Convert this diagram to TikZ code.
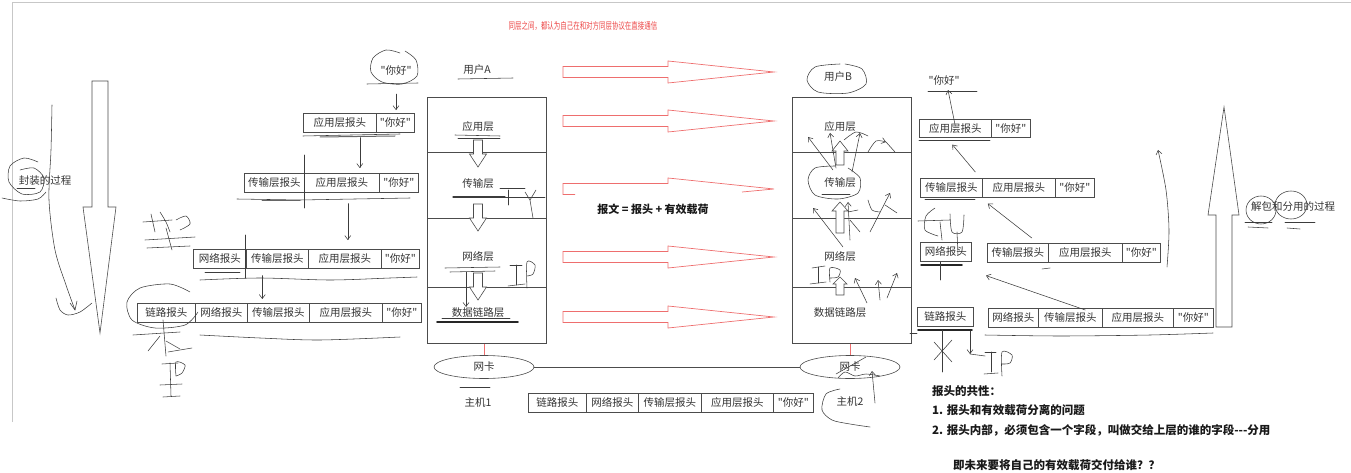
\documentclass[tikz,border=0pt]{standalone}
\usepackage{graphicx}
\usepackage{fontspec}
\setmainfont{Noto Sans CJK SC}[Ligatures=TeXOff]
\usetikzlibrary{arrows.meta,shapes.geometric}
\definecolor{redarr}{RGB}{238,110,110}
\definecolor{redtxt}{RGB}{236,70,70}
\definecolor{ink}{RGB}{60,60,60}
\begin{document}
\begin{tikzpicture}[x=1pt,y=-1pt,
  pbox/.style={draw=black!70, line width=0.6pt, minimum height=19pt, inner sep=0pt, anchor=north west, font=\fontsize{10.5}{12}\selectfont, text=black!80},
  lbl/.style={font=\fontsize{10.5}{12}\selectfont, text=black!80, inner sep=1pt},
  bigtxt/.style={font=\fontsize{11.5}{14}\selectfont\bfseries, text=black!90, inner sep=0pt, anchor=west},
  layer/.style={draw=black!70, line width=0.6pt, anchor=north west, minimum width=119pt, inner sep=0pt},
  hollow/.style={draw=black!70, line width=0.6pt, fill=white},
  redhollow/.style={draw=redarr, line width=0.7pt},
  hand/.style={draw=ink, line width=0.55pt, line cap=round, line join=round},
  heavy/.style={draw=black!85, line width=1.8pt, line cap=round},
  harrow/.style={hand, -{Straight Barb[length=4pt,width=6pt]}},
  downarr/.pic={\draw[hollow] (-4.5,0) -- (4.5,0) -- (4.5,14) -- (8.5,14) -- (0,27) -- (-8.5,14) -- (-4.5,14) -- cycle;},
  redarrow/.pic={\draw[redhollow] (0,-5.5) -- (105,-5.5) -- (105,-11) -- (211,0) -- (105,11) -- (105,5.5) -- (0,5.5) -- cycle;}
]
\useasboundingbox (0,0) rectangle (1351,473);
% frame
\draw[black!22, line width=1pt] (12,422) -- (12,3) -- (1351,3);

% title
\node[text=redtxt, font=\fontsize{9.5}{11}\selectfont, inner sep=0pt] (title) at (583,26) {\scalebox{0.68}[1]{同层之间，都认为自己在和对方同层协议在直接通信}};

% ---------- left big arrow ----------
\draw[hollow] (92,81) -- (108,81) -- (108,207) -- (116,207) -- (100,333) -- (83,207) -- (92,207) -- cycle;
\node[lbl] (encap) at (45,181) {封装的过程};
\draw[hand] plot[smooth] coordinates {(52,105) (51,150) (49,200) (55,250) (66,285) (75,310)};
\draw[hand] (70,303) -- (75,310) -- (77,301);
\draw[hand] plot[smooth] coordinates {(56,298) (60,310) (68,315) (80,312) (92,303)};
\draw[hand] plot[smooth] coordinates {(38,162) (24,158) (10,166) (9,182) (22,194) (40,192) (44,178) (34,168) (20,170)};
\draw[hand] plot[smooth] coordinates {(2,198) (20,201) (38,199) (46,192)};
\draw[hand] (17,188) -- (35,188);

% ---------- left packets ----------
\node[lbl] (lt) at (396,71) {"你好"};
\draw[hand] plot[smooth] coordinates {(400,53) (386,50) (373,58) (371,72) (382,82) (402,84) (417,76) (416,60) (405,51)};
\draw[hand] (367,84) -- (418,83);
\draw[harrow] ([yshift=-17pt]lt.south) -- ([yshift=-33pt]lt.south);

\node[pbox, minimum width=73pt] (la1) at (303,113) {应用层报头};
\node[pbox, minimum width=38pt] (la2) at (376,113) {"你好"};
\node[pbox, minimum width=60pt] (lb1) at (244,173) {传输层报头};
\node[pbox, minimum width=75pt] (lb2) at (304,173) {应用层报头};
\node[pbox, minimum width=39pt] (lb3) at (379,173) {"你好"};
\node[pbox, minimum width=53pt] (lc1) at (193,249) {网络报头};
\node[pbox, minimum width=62pt] (lc2) at (246,249) {传输层报头};
\node[pbox, minimum width=73pt] (lc3) at (308,249) {应用层报头};
\node[pbox, minimum width=38pt] (lc4) at (381,249) {"你好"};
\node[pbox, minimum width=58pt] (ld1) at (137,303) {链路报头};
\node[pbox, minimum width=52pt] (ld2) at (195,303) {网络报头};
\node[pbox, minimum width=62pt] (ld3) at (247,303) {传输层报头};
\node[pbox, minimum width=73pt] (ld4) at (309,303) {应用层报头};
\node[pbox, minimum width=39pt] (ld5) at (382,303) {"你好"};

\draw[harrow] ([xshift=20pt,yshift=-5pt]la1.south) -- ([xshift=18pt,yshift=5pt]lb2.north);
\draw[harrow] ([xshift=6pt,yshift=-11pt]lb2.south) -- ([xshift=3pt,yshift=9pt]lc3.north);
\draw[harrow] ([xshift=-15pt,yshift=-7pt]lc2.south) -- ([xshift=-16pt,yshift=4pt]ld3.north);

% underlines and scribbles, left
\draw[hand] (303,136) -- (400,134);
\draw[hand, line width=1pt, black!60] (320,137) -- (395,136);
\draw[hand] (237,199) -- (300,200) -- (410,198);
\draw[hand, line width=1pt, black!60] (262,201) -- (300,201);
\draw[hand] (304,155) -- (304,208);
\draw[hand] (245,235) -- (245,278);
\draw[hand] (205,272) -- (240,272);
\draw[hand] plot[smooth] coordinates {(200,280) (260,278) (330,280) (390,278) (417,277)};
\draw[hand] plot[smooth] coordinates {(200,335) (260,338) (320,340) (400,337)};
\draw[hand] plot[smooth] coordinates {(190,292) (170,284) (140,288) (127,302) (132,320) (155,328) (185,325) (198,312)};
% scribble "装"
\draw[hand] (143,222) -- (172,220);
\draw[hand] (151,214) -- (155,232);
\draw[hand] plot[smooth] coordinates {(160,212) (166,222) (170,232)};
\draw[hand] plot[smooth] coordinates {(176,220) (186,216) (190,224) (180,230)};
\draw[hand] (145,240) -- (195,237);
\draw[hand] (166,228) -- (172,250);
\draw[hand] (147,248) -- (190,246);
% scribble under link header
\draw[hand] (133,335) -- (180,332);
\draw[hand] (163,320) -- (166,356);
\draw[hand] (160,336) -- (148,351);
\draw[hand] (166,341) -- (180,349);
\draw[hand] (168,352) -- (192,348);
\draw[hand] (162,364) -- (178,363);
\draw[hand] (170,363) -- (171,396);
\draw[hand] (160,385) -- (182,384);
\draw[hand] (163,397) -- (180,396);
\draw[hand] plot[smooth] coordinates {(176,376) (176,362) (185,365) (182,373) (176,376)};

% ---------- host A ----------
\node[lbl] (userA) at (477,70) {用户A};
\draw[hand] (458,79) -- (513,78);
\node[layer, minimum height=55pt] (a1) at (427,97) {};
\node[layer, minimum height=66pt] (a2) at (427,152) {};
\node[layer, minimum height=69pt] (a3) at (427,218) {};
\node[layer, minimum height=56pt] (a4) at (427,287) {};
\node[lbl] (a1t) at (478,127) {应用层};
\node[lbl] (a2t) at (478,184) {传输层};
\node[lbl] (a3t) at (478,256) {网络层};
\node[lbl] (a4t) at (478,313) {数据链路层};
\pic at (478,140) {downarr};
\pic at (478,204) {downarr};
\pic at (478,273) {downarr};
\draw[hand] (455,135) -- (500,136);
\draw[hand] (458,138) -- (500,138);
\draw[hand, line width=1.3pt] (453,197) -- (505,197);
\draw[hand] (500,188) -- (525,188);
\draw[hand] (505,197) -- (545,197);
\draw[hand] (508,190) -- (508,205);
\draw[hand] (525,192) -- (530,200) -- (536,190);
\draw[hand] (530,200) -- (533,218);
\draw[hand] (445,268) -- (500,267);
\draw[hand] (450,272) -- (495,271);
\draw[hand] (510,265) -- (522,265);
\draw[hand] (516,265) -- (516,285);
\draw[hand] (508,286) -- (525,284);
\draw[hand] plot[smooth] coordinates {(527,288) (527,262) (535,265) (533,274) (527,276)};
\draw[harrow] (a3t.south -| 466,0) ++(0,10) -- (a4t.north -| 466,0);
\draw[heavy] (437,322) -- (518,322);
\draw[hand] (442,318) -- (510,318);

% red arrows
\pic at (563,72) {redarrow};
\pic at (563,121) {redarrow};
\draw[redhollow] (575,194.5) -- (563,194.5) -- (563,183.5) -- (668,183.5) -- (668,178) -- (774,189) -- (742,192);
\pic at (563,257) {redarrow};
\pic at (563,317) {redarrow};
\node[font=\fontsize{11}{13}\selectfont\bfseries, text=black!90] (msg) at (653,209) {报文 = 报头 + 有效载荷};

% NICs
\node[draw=black!70, line width=0.6pt, ellipse, minimum width=100pt, minimum height=23pt, inner sep=0pt, lbl] (nicA) at (484,367) {网卡};
\node[draw=black!70, line width=0.6pt, ellipse, minimum width=100pt, minimum height=23pt, inner sep=0pt, lbl] (nicB) at (850,367) {网卡};
\draw[redarr, line width=0.6pt] (nicA.north) -- (nicA.north |- a4.south);
\draw[redarr, line width=0.6pt] (nicB.north) -- (nicB.north |- a4.south);
\draw[black!70, line width=0.6pt] (nicA) -- (nicB);
\node[lbl] (hostA) at (478,403) {主机1};
\draw[hand] (460,387) -- (490,387);

\node[pbox, minimum width=58pt] (bm1) at (528,393) {链路报头};
\node[pbox, minimum width=52pt] (bm2) at (586,393) {网络报头};
\node[pbox, minimum width=63pt] (bm3) at (638,393) {传输层报头};
\node[pbox, minimum width=72pt] (bm4) at (701,393) {应用层报头};
\node[pbox, minimum width=40pt] (bm5) at (773,393) {"你好"};

\node[lbl] (hostB) at (850,402) {主机2};
\draw[hand] plot[smooth] coordinates {(840,389) (826,394) (822,410) (832,420) (850,424) (870,427)};
\draw[harrow] (875,403) -- (872,371);
\draw[hand] (836,374) -- (866,357);
\draw[hand] plot[smooth] coordinates {(838,378) (845,372) (855,376) (866,374) (880,376)};

% ---------- host B ----------
\node[lbl] (userB) at (838,77) {用户B};
\draw[hand] plot[smooth] coordinates {(840,64) (815,67) (807,80) (818,92) (848,93) (866,84) (862,69) (845,64)};
\node[layer, minimum height=55pt] (b1) at (792,97) {};
\node[layer, minimum height=66pt] (b2) at (792,152) {};
\node[layer, minimum height=69pt] (b3) at (792,218) {};
\node[layer, minimum height=56pt] (b4) at (792,287) {};
\node[lbl] (b1t) at (840,127) {应用层};
\node[lbl] (b2t) at (840,183) {传输层};
\node[lbl] (b3t) at (840,256) {网络层};
\node[lbl] (b4t) at (840,313) {数据链路层};
\draw[hollow] (840,141) -- ++(8,10) -- ++(-4,0) -- ++(0,14) -- ++(-8,0) -- ++(0,-14) -- ++(-4,0) -- cycle;
\draw[hollow] (840,202) -- ++(8,9) -- ++(-4,0) -- ++(0,22) -- ++(-8,0) -- ++(0,-22) -- ++(-4,0) -- cycle;
\draw[hollow] (840,277) -- ++(7,7) -- ++(-3,0) -- ++(0,11) -- ++(-8,0) -- ++(0,-11) -- ++(-3,0) -- cycle;
\draw[hand] plot[smooth] coordinates {(835,166) (815,168) (808,180) (815,195) (838,199) (858,193) (860,178) (848,168)};
\draw[hand] (822,194) -- (850,194);
\draw[harrow] (833,170) -- (808,137);
\draw[harrow] (836,168) -- (830,133);
\draw[harrow] (852,172) -- (860,133);
\draw[hand] plot[smooth] coordinates {(844,140) (856,132) (868,136)};
\draw[harrow] plot[smooth] coordinates {(868,152) (876,141) (886,142)};
\draw[hand] (886,142) -- (895,152);
\draw[harrow] (843,247) -- (813,208);
\draw[harrow] (850,240) -- (848,202);
\draw[hand] (848,212) -- (858,210);
\draw[hand] (850,220) -- (860,232);
\draw[harrow] (870,232) -- (890,193);
\draw[hand] plot[smooth] coordinates {(868,200) (872,210) (880,212)};
\draw[hand] (885,205) -- (897,213);
\draw[hand] (812,268) -- (825,266);
\draw[hand] (818,267) -- (818,283);
\draw[hand] (810,284) -- (826,282);
\draw[hand] plot[smooth] coordinates {(830,282) (830,268) (840,270) (838,277) (830,278)};
\draw[harrow] (867,303) -- (855,278);
\draw[harrow] (880,300) -- (878,280);
\draw[harrow] (887,298) -- (897,273);

% ---------- right packets ----------
\node[lbl] (rt) at (944,81) {"你好"};
\draw[hand] (928,91) -- (977,91);
\node[pbox, minimum width=72pt, minimum height=18pt] (ra1) at (919,119) {应用层报头};
\node[pbox, minimum width=39pt, minimum height=18pt] (ra2) at (991,119) {"你好"};
\node[pbox, minimum width=62pt] (rb1) at (920,178) {传输层报头};
\node[pbox, minimum width=73pt] (rb2) at (982,178) {应用层报头};
\node[pbox, minimum width=39pt] (rb3) at (1055,178) {"你好"};
\node[pbox, minimum width=51pt] (rc1) at (920,242) {网络报头};
\node[pbox, minimum width=61pt] (rc2) at (987,243) {传输层报头};
\node[pbox, minimum width=74pt] (rc3) at (1048,243) {应用层报头};
\node[pbox, minimum width=38pt] (rc4) at (1122,243) {"你好"};
\node[pbox, minimum width=56pt] (rd1) at (917,307) {链路报头};
\node[pbox, minimum width=50pt] (rd2) at (988,308) {网络报头};
\node[pbox, minimum width=64pt] (rd3) at (1038,308) {传输层报头};
\node[pbox, minimum width=71pt] (rd4) at (1102,308) {应用层报头};
\node[pbox, minimum width=40pt] (rd5) at (1173,308) {"你好"};

\draw[harrow] ([xshift=0pt,yshift=-7pt]ra1.north) -- ([xshift=4pt,yshift=-3pt]rt.south);
\draw[harrow] ([xshift=24pt,yshift=6pt]rb1.north) -- ([xshift=-3pt,yshift=-7pt]ra1.south);
\draw[harrow] ([xshift=14pt,yshift=5pt]rc2.north) -- ([xshift=-31pt,yshift=-6pt]rb2.south);
\draw[harrow] ([xshift=15pt,yshift=-2pt]rd3.north) -- ([xshift=-1pt,yshift=-13pt]rc2.south west);
\draw[hand] (1042,269) -- (1050,268);
\draw[harrow] plot[smooth] coordinates {(1167,267) (1169,230) (1166,190) (1158,150)};
\draw[hand] (919,140) -- (990,140);
\draw[hand] (925,199) -- (975,199);
\draw[hand] (918,221) -- (950,220);
\draw[hand] plot[smooth] coordinates {(935,208) (926,216) (925,230) (938,236)};
\draw[hand] (940,222) -- (942,240);
\draw[hand] plot[smooth] coordinates {(950,214) (952,232) (962,232) (964,215)};
\draw[hand] (957,232) -- (958,255);
\draw[heavy, line width=1.5pt] (921,265) -- (962,265);
\draw[hand] (940,262) -- (940,280);
\draw[hand] (910,333) -- (917,333);
\draw[heavy] (918,330) -- (972,330);
\draw[hand] (942,330) -- (942,372);
\draw[hand] (934,342) -- (952,362);
\draw[hand] (952,340) -- (934,360);
\draw[harrow] (970,331) -- (970,354);
\draw[hand] (970,354) -- (985,356);
\draw[hand] (985,352) -- (996,352);
\draw[hand] (991,352) -- (991,372);
\draw[hand] (984,374) -- (998,373);
\draw[hand] plot[smooth] coordinates {(1002,376) (1002,352) (1012,355) (1010,363) (1002,364)};
\draw[hand] plot[smooth] coordinates {(985,335) (1060,336) (1150,335) (1213,333)};

% big right arrow
\draw[hollow] (1216,327) -- (1232,327) -- (1232,215) -- (1239,215) -- (1224,107) -- (1208,215) -- (1216,215) -- cycle;
\node[lbl] (decap) at (1293,207) {解包和分用的过程};
\draw[hand] (1261,210) ellipse [x radius=15, y radius=14];
\draw[hand] (1291,205) ellipse [x radius=16, y radius=14];
\draw[hand] (1245,222) -- (1272,222);
\draw[hand] (1248,227) -- (1268,228);
\draw[hand] (1285,222) -- (1315,222);
\draw[hand] (1287,228) -- (1300,229);

% notes
\node[bigtxt] (n0) at (932,391) {报头的共性：};
\node[bigtxt] (n1) at (932,410) {1. 报头和有效载荷分离的问题};
\node[bigtxt] (n2) at (932,430) {2. 报头内部，必须包含一个字段，叫做交给上层的谁的字段---分用};
\node[bigtxt] (n3) at (953,465) {即未来要将自己的有效载荷交付给谁？？};
\end{tikzpicture}
\end{document}
